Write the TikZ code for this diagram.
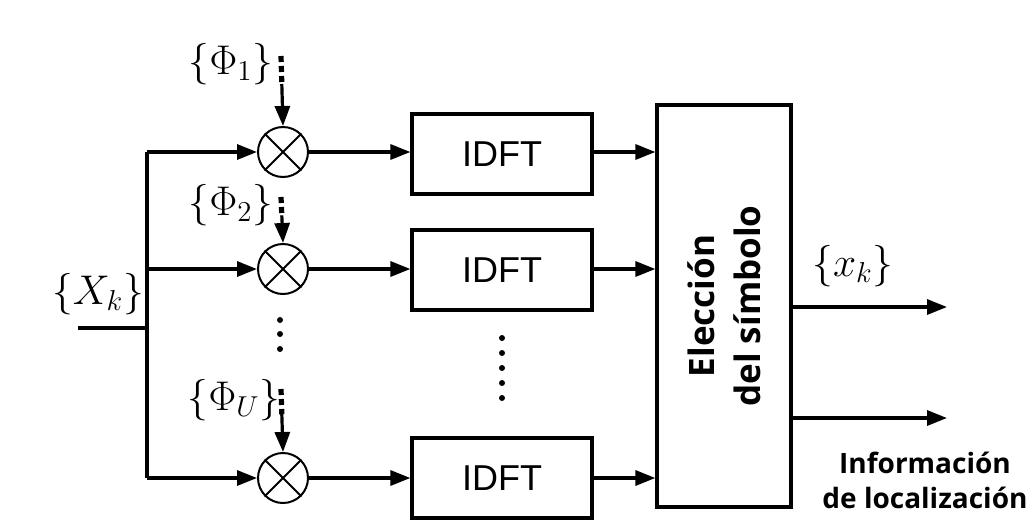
\documentclass[tikz,border=0pt]{standalone}
\usepackage{amsmath}
\usepackage{fontspec}
\newfontfamily\arialfont{Liberation Sans}
\newfontfamily\labelfont{Open Sans}
\usetikzlibrary{arrows.meta, calc, positioning}

\tikzset{
  arr/.style={line width=1.6pt,-{Triangle[length=10pt,width=7.5pt]}},
  wire/.style={line width=1.6pt},
  mixer/.style={circle,draw,line width=1pt,minimum size=25pt,inner sep=0pt},
  idft/.style={draw,line width=1.6pt,minimum width=90pt,minimum height=40pt,
    font=\arialfont\fontsize{18}{21}\selectfont},
  selbox/.style={draw,line width=1.6pt,minimum width=67pt,minimum height=201pt},
  phase/.style={font=\fontsize{21}{24}\selectfont},
  dot/.style={circle,fill,inner sep=0pt,minimum size=3pt}
}

\begin{document}
\begin{tikzpicture}[x=0.5pt,y=-0.5pt]
  \useasboundingbox (0,0) rectangle (1036,525);
  % input and bus
  \coordinate (in) at (78,328);
  \coordinate (bj) at (147,328);
  \coordinate (b1) at (147,152);
  \coordinate (b2) at (147,268);
  \coordinate (bU) at (147,478);
  \node[phase] (X) at (98,294) {$\{X_k\}$};
  \draw[wire] (in) -- (bj);
  \draw[wire] (b1) -- (bU);
  % mixers and IDFT branches
  \node[mixer] (m1) at (283,152) {};
  \node[mixer] (m2) at (283,269) {};
  \node[mixer] (mU) at (283,478) {};
  \node[idft] (f1) at (502,154) {IDFT};
  \node[idft] (f2) at (502,270) {IDFT};
  \node[idft] (fU) at (502,478) {IDFT};
  \node[selbox] (sel) at (724,306) {};
  \node[rotate=90,align=center,font=\labelfont\bfseries\fontsize{17.5}{23}\selectfont]
    (seltxt) at (sel.center) {Elección\\del símbolo};
  \foreach \n in {1,2,U}{
    \draw[line width=1pt] (m\n.45) -- (m\n.225) (m\n.135) -- (m\n.315);
    \draw[arr] (b\n |- m\n.west) -- (m\n.west);
    \draw[arr] (m\n.east) -- (m\n.east -| f\n.west);
    \draw[arr] (f\n.east |- m\n.east) -- (sel.west |- m\n.east);
  }
  % phase sequences
  \node[phase] (p1) at (231,64) {$\{\Phi_1\}$};
  \node[phase] (p2) at (231,205) {$\{\Phi_2\}$};
  \node[phase] (pU) at (234,400) {$\{\Phi_U\}$};
  \coordinate (d1) at (281,56);
  \coordinate (d2) at (281,197);
  \coordinate (dU) at (281,389);
  \foreach \n in {1,2,U}{
    \draw[line width=2.6pt,dash pattern=on 3pt off 2pt] (d\n) -- ($(d\n)!0.4!(m\n.north)$);
    \draw[arr] ($(d\n)!0.4!(m\n.north)$) -- (m\n.north);
  }
  % continuation dots
  \foreach \y in {320,334,349} \node[dot] at (280,\y) {};
  \foreach \y in {338,353,368,383,398} \node[dot] at (502,\y) {};
  % outputs
  \coordinate (o1) at (947,307);
  \coordinate (o2) at (947,418);
  \draw[arr] (sel.east |- o1) -- (o1);
  \draw[arr] (sel.east |- o2) -- (o2);
  \node[phase] (xk) at (853,266) {$\{x_k\}$};
  \node[align=center,font=\labelfont\bfseries\fontsize{14}{17.5}\selectfont]
    (info) at (925,480) {Información\\de localización};
\end{tikzpicture}
\end{document}
